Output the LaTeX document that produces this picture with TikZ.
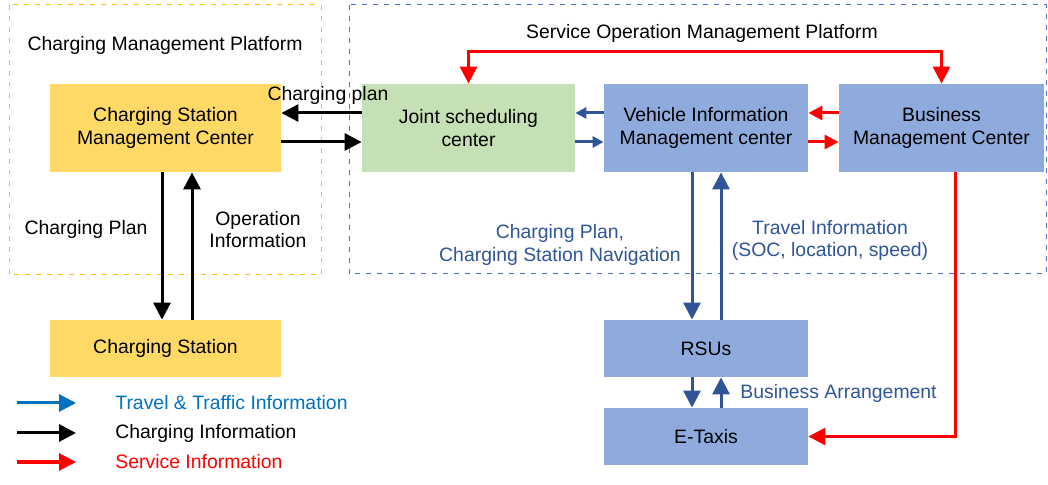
\documentclass[tikz,border=0pt]{standalone}
\usepackage{fontspec}
\setmainfont{Liberation Sans}
\usepackage{xcolor}
\definecolor{ChargeYellow}{HTML}{FFD966}
\definecolor{FrameYellow}{HTML}{FFC000}
\definecolor{JointGreen}{HTML}{C5E0B4}
\definecolor{InfoBlue}{HTML}{8FAADC}
\definecolor{FrameBlue}{HTML}{4472C4}
\definecolor{FlowBlue}{HTML}{2F5597}
\definecolor{LegendBlue}{HTML}{0070C0}
\definecolor{ServiceRed}{HTML}{FF0000}
\usetikzlibrary{arrows.meta,calc,positioning}

\begin{document}
\begin{tikzpicture}[
    x=0.5pt,y=-0.5pt,
    font=\fontsize{9.7pt}{11.2pt}\selectfont,
    every node/.style={align=center,inner sep=0pt},
    box/.style={minimum height=44pt},
    lowbox/.style={minimum height=28.5pt},
    frame/.style={line width=0.5pt,dash pattern=on 2.5pt off 3pt},
    flow/.style={line width=1.5pt,-{Triangle[length=8.5pt,width=8.5pt]}},
    short/.style={-{Triangle[length=5.5pt,width=5.5pt]}},
    mid/.style={-{Triangle[length=7pt,width=7pt]}},
    chg/.style={flow,black},
    trv/.style={flow,FlowBlue},
    svc/.style={flow,ServiceRed}
  ]
    \useasboundingbox (0,0) rectangle (1048,485);

    % platform frames
    \draw[frame,FrameYellow] (9,5) rectangle (321,275);
    \draw[frame,FrameBlue] (349,5) rectangle (1046,274);
    \node (cmp) at (165,45) {Charging Management Platform};
    \node (somp) at (702,33) {Service Operation Management Platform};

    % centers and devices
    \node[box,fill=ChargeYellow,minimum width=115.5pt] (csmc) at (165.5,128)
      {Charging Station\\Management Center};
    \node[box,fill=JointGreen,minimum width=106.5pt] (joint) at (468.5,128)
      {Joint scheduling\\center};
    \node[box,fill=InfoBlue,minimum width=102pt] (vimc) at (706,128)
      {Vehicle Information\\Management center};
    \node[box,fill=InfoBlue,minimum width=102.5pt] (bmc) at (941.5,128)
      {Business\\Management Center};
    \node[lowbox,fill=ChargeYellow,minimum width=115.5pt] (station) at (165.5,348.5)
      {Charging Station};
    \node[lowbox,fill=InfoBlue,minimum width=102pt] (rsu) at (706,348.5) {RSUs};
    \node[lowbox,fill=InfoBlue,minimum width=102pt] (taxi) at (706,436.5) {E-Taxis};

    % charging information
    \draw[chg] ([yshift=7.5pt]joint.west) -- ([yshift=7.5pt]csmc.east);
    \draw[chg] ([yshift=-7pt]csmc.east) -- ([yshift=-7pt]joint.west);
    \draw[chg] ([xshift=-1.75pt]csmc.south) -- ([xshift=-1.75pt]station.north);
    \draw[chg] ([xshift=13.25pt]station.north) -- ([xshift=13.25pt]csmc.south);
    \node (lbplan) at (328,95) {Charging plan};
    \node (lbcsplan) at (86,229) {Charging Plan};
    \node (lbop) at (258,229.5) {Operation\\Information};

    % travel information
    \draw[trv,short] ([yshift=7.5pt]vimc.west) -- ([yshift=7.5pt]joint.east);
    \draw[trv,short] ([yshift=-7pt]joint.east) -- ([yshift=-7pt]vimc.west);
    \draw[trv] ([xshift=-7pt]vimc.south) -- ([xshift=-7pt]rsu.north);
    \draw[trv] ([xshift=7.5pt]rsu.north) -- ([xshift=7.5pt]vimc.south);
    \draw[trv] ([xshift=-7pt]rsu.south) -- ([xshift=-7pt]taxi.north);
    \draw[trv] ([xshift=7.5pt]taxi.north) -- ([xshift=7.5pt]rsu.south);
    \node[text=FlowBlue] (lbnav) at (560,245) {Charging Plan,\\Charging Station Navigation};
    \node[text=FlowBlue] (lbtravel) at (830,240.5) {Travel Information\\(SOC, location, speed)};
    \node[text=FlowBlue,anchor=west] (lbbiz) at (740,393) {Business Arrangement};

    % service information
    \coordinate (svctop) at (700,52);
    \draw[svc,{Triangle[length=8.5pt,width=8.5pt]}-{Triangle[length=8.5pt,width=8.5pt]}]
      (joint.north) |- (svctop) -| (bmc.north);
    \draw[svc,mid] ([yshift=7.5pt]bmc.west) -- ([yshift=7.5pt]vimc.east);
    \draw[svc,mid] ([yshift=-7pt]vimc.east) -- ([yshift=-7pt]bmc.west);
    \draw[svc] ([xshift=6.75pt]bmc.south) |- (taxi.east);

    % legend
    \node[text=LegendBlue,anchor=west] (lgtrv) at (115,403) {Travel \& Traffic Information};
    \node[anchor=west] (lgchg) at (115,433) {Charging Information};
    \node[text=ServiceRed,anchor=west] (lgsvc) at (115,462) {Service Information};
    \draw[flow,LegendBlue] ([xshift=-49pt]lgtrv.west) -- ([xshift=-19.5pt]lgtrv.west);
    \draw[chg] ([xshift=-49pt]lgchg.west) -- ([xshift=-19.5pt]lgchg.west);
    \draw[svc] ([xshift=-49pt]lgsvc.west) -- ([xshift=-19.5pt]lgsvc.west);
\end{tikzpicture}
\end{document}
